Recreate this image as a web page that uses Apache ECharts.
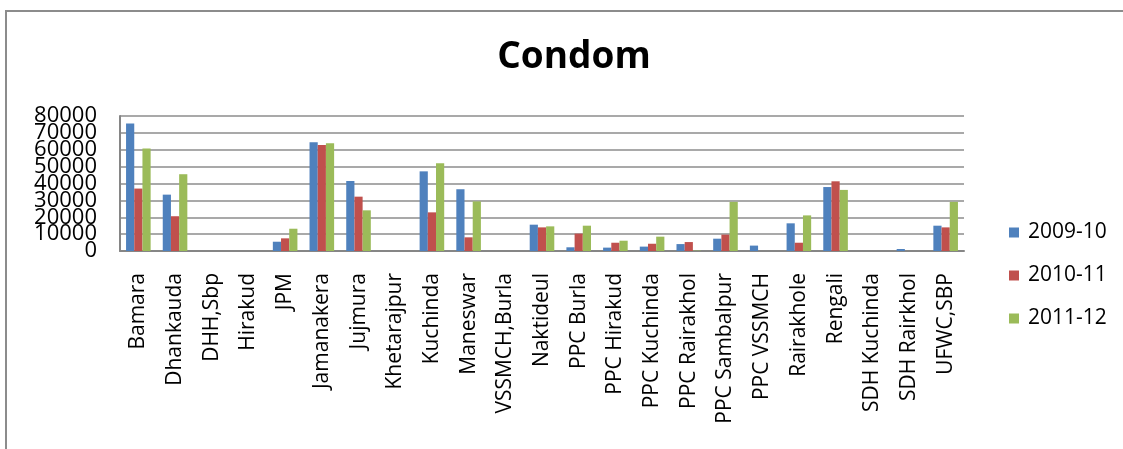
<!DOCTYPE html>
<html>
<head>
<meta charset="utf-8">
<title>Condom</title>
<script src="https://cdn.jsdelivr.net/npm/echarts@6/dist/echarts.min.js"></script>
<style>
  html, body { margin: 0; padding: 0; background: #ffffff; }
  #chart { width: 1123px; height: 449px; }
</style>
</head>
<body>
<div id="chart"></div>
<script>
// Facility names along the category axis
const categories = [
  'Bamara', 'Dhankauda', 'DHH,Sbp', 'Hirakud', 'JPM', 'Jamanakera', 'Jujmura',
  'Khetarajpur', 'Kuchinda', 'Maneswar', 'VSSMCH,Burla', 'Naktideul', 'PPC Burla',
  'PPC Hirakud', 'PPC Kuchinda', 'PPC Rairakhol', 'PPC Sambalpur', 'PPC VSSMCH',
  'Rairakhole', 'Rengali', 'SDH Kuchinda', 'SDH Rairkhol', 'UFWC,SBP'
];

// Condoms distributed per year
const y2009_10 = [75500, 33400, 0, 0, 5500, 64400, 41500, 0, 47200, 36600, 0, 15600, 2200,
                  2000, 2600, 4100, 7300, 3200, 16400, 37900, 0, 1200, 15000];
const y2010_11 = [37000, 20600, 0, 0, 7500, 62800, 32200, 0, 22900, 8100, 0, 14000, 10300,
                  4900, 4300, 5300, 9700, 0, 4900, 41300, 0, 0, 14000];
const y2011_12 = [60700, 45500, 0, 0, 13200, 63800, 24100, 0, 52000, 29400, 0, 14600, 15000,
                  6100, 8500, 200, 29100, 0, 21100, 36200, 0, 0, 29100];

const seriesNames = ['2009-10', '2010-11', '2011-12'];
const seriesColors = ['#4F81BD', '#C0504D', '#9BBB59'];
const seriesData = [y2009_10, y2010_11, y2011_12];

// Value axis ticks
const yTicks = { min: 0, max: 80000, step: 10000 };

const FONT = '"Open Sans", "Liberation Sans", sans-serif';

// The tick labels are taller than the tick spacing, so the value axis is
// split in two overlaid axes: one labels every other tick starting at 0,
// the other labels the ticks in between (and draws the grid lines).
const yLabelStyle = {
  margin: 23,
  fontFamily: FONT,
  fontSize: 22,
  color: '#000000',
  hideOverlap: false
};

const chart = echarts.init(document.getElementById('chart'), null, { renderer: 'canvas' });

chart.setOption({
  backgroundColor: '#ffffff',
  animation: false,
  textStyle: { fontFamily: FONT },
  graphic: [{
    type: 'rect',
    shape: { x: 6, y: 11, width: 1300, height: 700 },
    style: { fill: 'none', stroke: '#8c8c8c', lineWidth: 2 },
    silent: true
  }],
  title: {
    text: 'Condom',
    left: 569,
    textAlign: 'center',
    top: 34,
    textStyle: { fontFamily: FONT, fontSize: 37, fontWeight: 'bold', color: '#000000' }
  },
  legend: {
    orient: 'vertical',
    left: 1004,
    top: 217,
    itemWidth: 10,
    itemHeight: 10,
    itemGap: 22,
    icon: 'rect',
    textStyle: { fontFamily: FONT, fontSize: 21, color: '#000000', padding: [0, 0, 0, 4] },
    data: seriesNames
  },
  grid: {
    left: 120,
    right: 159,
    top: 116,
    bottom: 198,
    containLabel: false,
    outerBoundsMode: 'none'
  },
  xAxis: {
    type: 'category',
    data: categories,
    axisLine: { show: true, lineStyle: { color: '#868686', width: 2 } },
    axisTick: { show: false },
    axisLabel: {
      interval: 0,
      rotate: 90,
      margin: 22,
      fontFamily: FONT,
      fontSize: 21,
      color: '#000000',
      hideOverlap: false
    },
    splitLine: { show: false }
  },
  yAxis: [
    {
      type: 'value',
      position: 'left',
      min: yTicks.min,
      max: yTicks.max,
      interval: yTicks.step * 2,
      axisLine: { show: true, lineStyle: { color: '#868686', width: 2 } },
      axisTick: { show: false },
      axisLabel: Object.assign({}, yLabelStyle, {
        showMinLabel: true,
        showMaxLabel: true,
        formatter: (v) => String(v)
      }),
      splitLine: { show: false }
    },
    {
      type: 'value',
      position: 'left',
      offset: 0,
      min: yTicks.min,
      max: yTicks.max,
      interval: yTicks.step,
      axisLine: { show: false },
      axisTick: { show: false },
      axisLabel: Object.assign({}, yLabelStyle, {
        showMinLabel: false,
        showMaxLabel: false,
        formatter: (v) => (v % (yTicks.step * 2) === 0 ? '' : String(v))
      }),
      splitLine: { show: true, lineStyle: { color: '#8c8c8c', width: 1.5 } }
    }
  ],
  series: seriesData.map((data, i) => ({
    name: seriesNames[i],
    type: 'bar',
    yAxisIndex: 0,
    data: data,
    barGap: '0%',
    barCategoryGap: '33%',
    itemStyle: { color: seriesColors[i] }
  }))
});
</script>
</body>
</html>
